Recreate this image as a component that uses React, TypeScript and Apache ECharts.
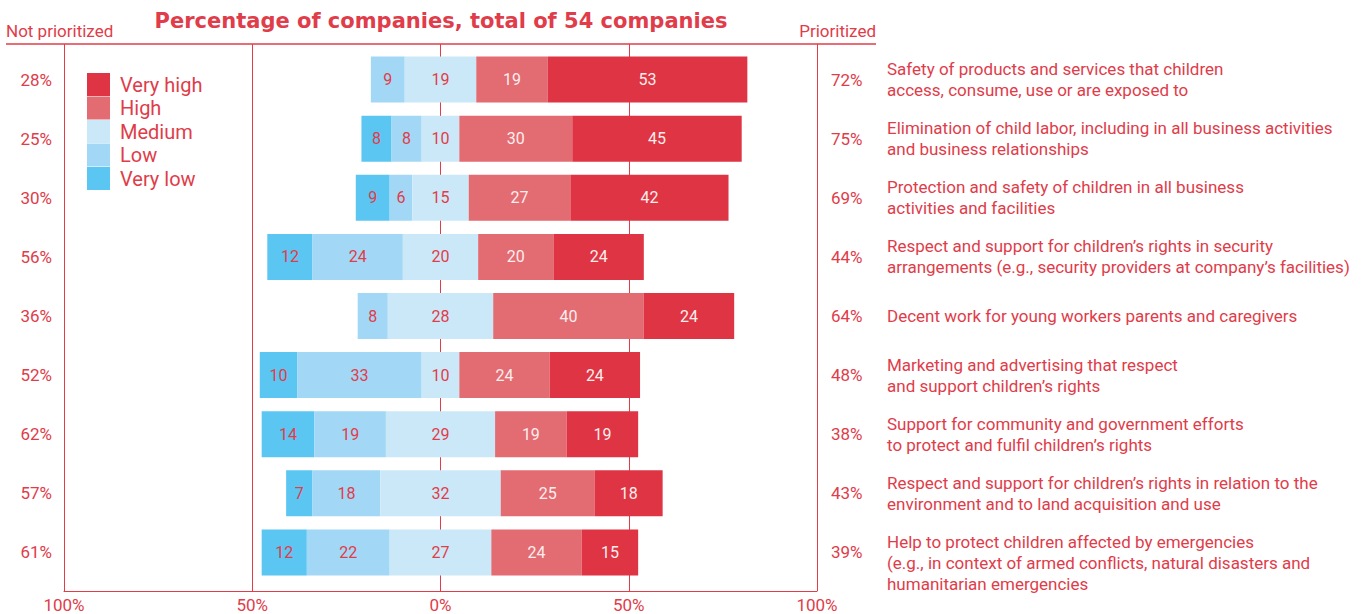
import React, { useEffect, useRef } from "react";
import * as echarts from "echarts";

const categories = [
  "Safety of products and services that children\naccess, consume, use or are exposed to",
  "Elimination of child labor, including in all business activities\nand business relationships",
  "Protection and safety of children in all business\nactivities and facilities",
  "Respect and support for children’s rights in security\narrangements (e.g., security providers at company’s facilities)",
  "Decent work for young workers parents and caregivers",
  "Marketing and advertising that respect\nand support children’s rights",
  "Support for community and government efforts\nto protect and fulfil children’s rights",
  "Respect and support for children’s rights in relation to the\nenvironment and to land acquisition and use",
  "\nHelp to protect children affected by emergencies\n(e.g., in context of armed conflicts, natural disasters and\nhumanitarian emergencies",
];
const veryLow = [0, 8, 9, 12, 0, 10, 14, 7, 12];
const low = [9, 8, 6, 24, 8, 33, 19, 18, 22];
const medium = [19, 10, 15, 20, 28, 10, 29, 32, 27];
const high = [19, 30, 27, 20, 40, 24, 19, 25, 24];
const veryHigh = [53, 45, 42, 24, 24, 24, 19, 18, 15];
const notPrioritized = ["28%", "25%", "30%", "56%", "36%", "52%", "62%", "57%", "61%"];
const prioritized = ["72%", "75%", "69%", "44%", "64%", "48%", "38%", "43%", "39%"];
const legendNames = ["Very high", "High", "Medium", "Low", "Very low"];
const xMin = -100;
const xMax = 100;
const xInterval = 50;

const RED = "#e03c4a";
const C_VH = "#de3443";
const C_H = "#e36b72";
const C_M = "#cbe8f8";
const C_L = "#a2d8f5";
const C_VL = "#5bc6f2";
const FONT = "Roboto";

// the diverging bar starts at the left end: half of Medium, then Low and Very low
const leftStart = medium.map((m, i) => -(m / 2 + low[i] + veryLow[i]));

export default function App() {
  const ref = useRef<HTMLDivElement>(null);
  useEffect(() => {
    if (!ref.current) return;
    const chart = echarts.init(ref.current, null, { renderer: "svg" });
    const lab = (color: string, vals: number[]) => ({
      show: true,
      position: "inside",
      color,
      fontSize: 16,
      fontFamily: FONT,
      formatter: (p: any) => (vals[p.dataIndex] ? String(vals[p.dataIndex]) : ""),
    });
    const barBase = {
      type: "bar",
      barWidth: 46,
      xAxisIndex: 0,
      yAxisIndex: 0,
      stack: "all",
      stackStrategy: "all",
      z: 5,
    };
    chart.setOption({
      animation: false,
      textStyle: { fontFamily: FONT },
      legend: {
        data: legendNames,
        orient: "vertical",
        left: 87,
        top: 73,
        padding: 0,
        itemWidth: 23,
        itemHeight: 23,
        itemGap: 0.5,
        icon: "rect",
        selectedMode: false,
        textStyle: { color: RED, fontSize: 20, fontFamily: FONT, padding: [0, 0, 0, 5] },
      },
      grid: [
        { left: 64, right: 547, top: 50, bottom: 32 },
        { left: 64, right: 547, top: 44, bottom: 23 },
      ],
      xAxis: [
        {
          type: "value",
          gridIndex: 0,
          min: xMin,
          max: xMax,
          interval: xInterval,
          show: false,
          axisLine: { show: false },
          splitLine: { show: false },
        },
        {
          type: "value",
          gridIndex: 1,
          min: xMin,
          max: xMax,
          interval: xInterval,
          position: "bottom",
          z: 0,
          axisLine: { show: true, lineStyle: { color: RED, width: 1 } },
          axisTick: { show: false },
          splitLine: { show: true, lineStyle: { color: RED, width: 1 } },
          axisLabel: {
            color: RED,
            fontSize: 17,
            fontFamily: FONT,
            margin: 5,
            formatter: (v: number) => Math.abs(v) + "%",
          },
        },
      ],
      yAxis: [
        {
          type: "category",
          gridIndex: 0,
          inverse: true,
          position: "left",
          data: notPrioritized,
          axisLine: { show: false },
          axisTick: { show: false },
          splitLine: { show: false },
          axisLabel: { interval: 0, color: RED, fontSize: 17, fontFamily: FONT, margin: 12 },
        },
        {
          type: "category",
          gridIndex: 0,
          inverse: true,
          position: "right",
          data: prioritized,
          axisLine: { show: false },
          axisTick: { show: false },
          splitLine: { show: false },
          axisLabel: { interval: 0, color: RED, fontSize: 17, fontFamily: FONT, margin: 14, align: "left" },
        },
        {
          type: "category",
          gridIndex: 0,
          inverse: true,
          position: "right",
          data: categories,
          axisLine: { show: false },
          axisTick: { show: false },
          splitLine: { show: false },
          axisLabel: {
            interval: 0,
            color: RED,
            fontSize: 17,
            fontFamily: FONT,
            margin: 70,
            align: "left",
            lineHeight: 21,
          },
        },
        {
          type: "value",
          gridIndex: 1,
          show: false,
          min: 0,
          max: 1,
          axisLine: { show: false },
          splitLine: { show: false },
        },
      ],
      series: [
        {
          ...barBase,
          name: "offset",
          silent: true,
          data: leftStart,
          itemStyle: { color: "rgba(0,0,0,0)" },
          label: { show: false },
        },
        {
          ...barBase,
          name: "Very low",
          data: veryLow,
          itemStyle: { color: C_VL },
          label: lab(RED, veryLow),
        },
        {
          ...barBase,
          name: "Low",
          data: low,
          itemStyle: { color: C_L },
          label: lab(RED, low),
        },
        {
          ...barBase,
          name: "Medium",
          data: medium,
          itemStyle: { color: C_M },
          label: lab(RED, medium),
        },
        {
          ...barBase,
          name: "High",
          data: high,
          itemStyle: { color: C_H },
          label: lab("#fdeeee", high),
        },
        {
          ...barBase,
          name: "Very high",
          data: veryHigh,
          itemStyle: { color: C_VH },
          label: lab("#fdeeee", veryHigh),
        },
      ],
      graphic: [
        {
          type: "text",
          x: 441,
          y: 21,
          style: {
            text: "Percentage of companies, total of 54 companies",
            fill: RED,
            font: `bold 21px "DejaVu Sans"`,
            align: "center",
            verticalAlign: "middle",
          },
        },
        {
          type: "text",
          x: 6,
          y: 31,
          style: {
            text: "Not prioritized",
            fill: RED,
            font: `17px ${FONT}`,
            align: "left",
            verticalAlign: "middle",
          },
        },
        {
          type: "text",
          x: 876,
          y: 31,
          style: {
            text: "Prioritized",
            fill: RED,
            font: `17px ${FONT}`,
            align: "right",
            verticalAlign: "middle",
          },
        },
        {
          type: "line",
          shape: { x1: 6, y1: 44, x2: 876, y2: 44 },
          style: { stroke: RED, lineWidth: 1.5 },
        },
      ],
    });
    return () => chart.dispose();
  }, []);
  return <div ref={ref} style={{ width: 1364, height: 614, position: "absolute", left: 0, top: 0 }} />;
}
